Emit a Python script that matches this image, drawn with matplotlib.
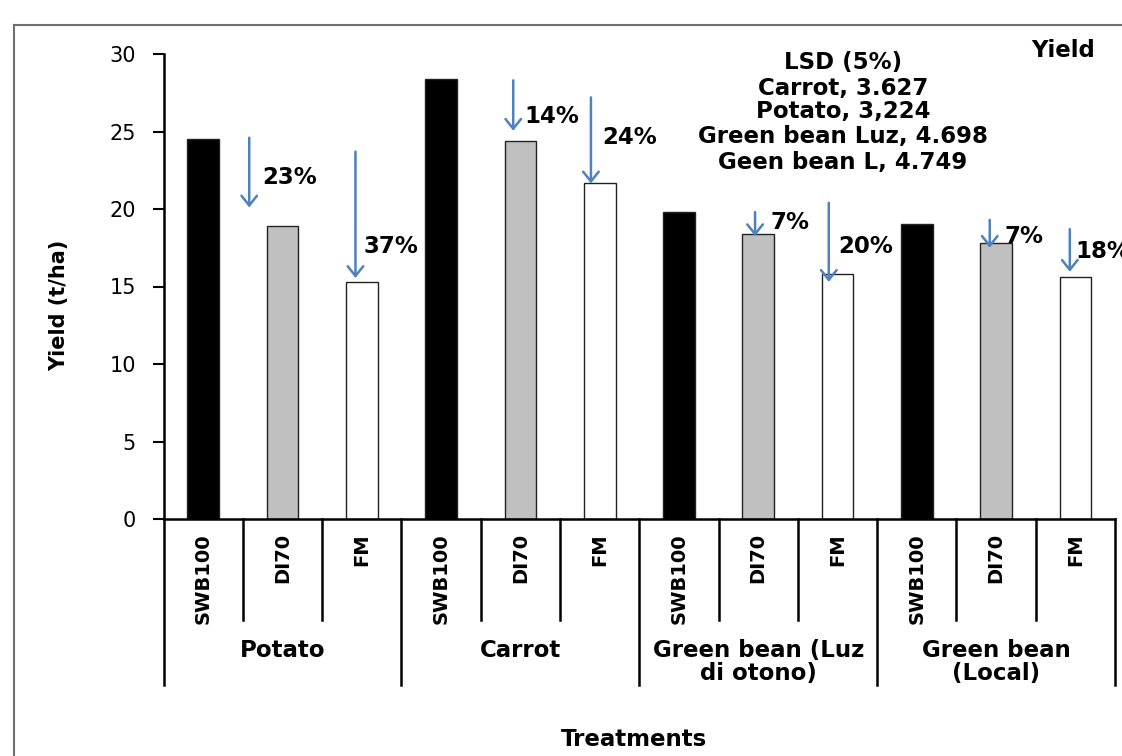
import matplotlib
matplotlib.use("Agg")
import matplotlib.pyplot as plt
import matplotlib.transforms as mtransforms
from matplotlib.lines import Line2D

plt.rcParams['font.family'] = ['DejaVu Sans']

# ---- data ----
groups = ["Potato", "Carrot", "Green bean (Luz\ndi otono)", "Green bean\n(Local)"]
treatments = ["SWB100", "DI70", "FM"]
yield_vals = [24.5, 18.9, 15.3,
              28.4, 24.4, 21.7,
              19.8, 18.4, 15.8,
              19.05, 17.8, 15.6]
bar_colors = ["#000000", "#C0C0C0", "#FFFFFF"]

# reduction annotations (bar index, arrow x offset, arrow top, arrow tip, label, label x, label y)
red_bar = [1, 2, 4, 5, 7, 8, 10, 11]
red_dx = [-0.42, -0.08, -0.09, -0.11, -0.04, -0.11, -0.08, -0.07]
red_top = [24.6, 23.7, 28.3, 27.2, 19.8, 20.4, 19.3, 18.7]
red_tip = [20.1, 15.55, 25.05, 21.65, 18.25, 15.3, 17.5, 15.95]
red_lab = ["23%", "37%", "14%", "24%", "7%", "20%", "7%", "18%"]
red_lx = [0.74, 2.02, 4.05, 5.03, 7.15, 8.01, 10.11, 11.0]
red_ly = [22.0, 17.6, 25.95, 24.6, 19.15, 17.6, 18.2, 17.25]

lsd_lines = ["LSD (5%)", "Carrot, 3.627", "Potato, 3,224",
             "Green bean Luz, 4.698", "Geen bean L, 4.749"]
lsd_y = [29.42, 27.8, 26.26, 24.65, 23.03]
yticks = [0, 5, 10, 15, 20, 25, 30]

# ---- figure ----
W, H = 1122, 756
fig = plt.figure(figsize=(W / 100, H / 100), dpi=100)
ax_l, ax_r, ax_b, ax_t = 163.6, 1115, 519, 54
ax = fig.add_axes([ax_l / W, (H - ax_b) / H, (ax_r - ax_l) / W, (ax_b - ax_t) / H])

n = len(yield_vals)
xs = list(range(n))
cols = [bar_colors[i % 3] for i in xs]
ax.bar(xs, yield_vals, width=0.4, color=cols, edgecolor="#222222", linewidth=1.0, zorder=2)

ax.set_xlim(-0.5, n - 0.5)
ax.set_ylim(0, 30)
ax.set_yticks(yticks)
ax.set_yticklabels([str(t) for t in yticks], fontsize=15)
ax.tick_params(axis='y', direction='out', length=8, width=1.5, pad=12, colors='black')
ax.set_xticks([])
for s in ['top', 'right']:
    ax.spines[s].set_visible(False)
for s in ['left', 'bottom']:
    ax.spines[s].set_linewidth(1.8)
    ax.spines[s].set_color('black')

# arrows and percent labels
for b, dx, yt, yb, lab, lx, ly in zip(red_bar, red_dx, red_top, red_tip, red_lab, red_lx, red_ly):
    x = b + dx
    ax.annotate('', xy=(x, yb), xytext=(x, yt),
                arrowprops=dict(arrowstyle='->,head_length=0.5,head_width=0.4',
                                color='#4F81BD', lw=1.8, mutation_scale=14,
                                shrinkA=0, shrinkB=0), zorder=3)
    ax.text(lx, ly, lab, fontsize=16.5, fontweight='bold', ha='left', va='center', zorder=4)

# LSD block
for t, y in zip(lsd_lines, lsd_y):
    ax.text(8.07, y, t, fontsize=16.5, fontweight='bold', ha='center', va='center', clip_on=False)
ax.text(11.25, 30.25, "Yield", fontsize=16.5, fontweight='bold', ha='right', va='center', clip_on=False)

# category axis (multi-level)
trans = mtransforms.blended_transform_factory(ax.transData, ax.transAxes)
ah = ax_b - ax_t
for i in xs:
    ax.text(i, -14 / ah, treatments[i % 3], rotation=90, fontsize=14, fontweight='bold',
            ha='center', va='top', transform=trans, clip_on=False)
for k in range(n + 1):
    xb = k - 0.5
    depth = 166 if k % 3 == 0 else 101
    ax.add_line(Line2D([xb, xb], [0, -depth / ah], transform=trans, color='black',
                       lw=1.8, clip_on=False))
for g, name in enumerate(groups):
    ax.text(g * 3 + 1, -120 / ah, name, fontsize=16.5, fontweight='bold', ha='center',
            va='top', linespacing=1.0, transform=trans, clip_on=False)

fig.text(59 / W, (H - 305) / H, "Yield (t/ha)", rotation=90, fontsize=15, fontweight='bold',
         ha='center', va='center')
fig.text(634 / W, (H - 740) / H, "Treatments", fontsize=16.5, fontweight='bold',
         ha='center', va='center')

# outer frame (partially cropped)
fig.add_artist(Line2D([14 / W, 14 / W], [0, (H - 25) / H], transform=fig.transFigure,
                      color='#707070', lw=1.5))
fig.add_artist(Line2D([14 / W, 1], [(H - 25) / H, (H - 25) / H], transform=fig.transFigure,
                      color='#707070', lw=1.5))

fig.savefig("out.png", dpi=100)
